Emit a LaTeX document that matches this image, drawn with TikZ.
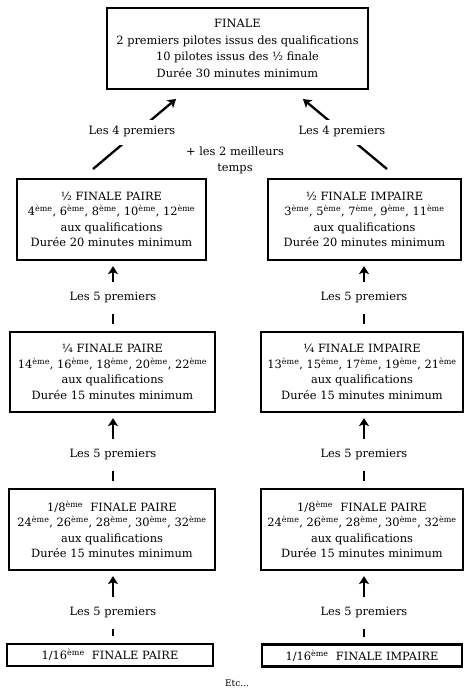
\documentclass[tikz,border=0pt]{standalone}
\usepackage{fontspec}
\setmainfont{DejaVu Serif}
\usetikzlibrary{arrows.meta}
\newcommand{\eme}{\textsuperscript{ème}}
\begin{document}
\begin{tikzpicture}[x=1pt,y=-1pt,
  box/.style={draw, line width=2.2pt, align=center, inner sep=0pt,
    font=\fontsize{11.4}{15.5}\selectfont},
  lab/.style={font=\fontsize{11.4}{13}\selectfont, inner xsep=1pt, inner ysep=10pt,
    text height=8pt, text depth=3pt},
  arr/.style={line width=2.3pt, -{Stealth[length=8pt,width=10pt,inset=2pt]}},
  barline/.style={line width=2.6pt}]
\useasboundingbox (0,0) rectangle (464,689);

% boxes
\node[box, minimum width=261pt, minimum height=81pt, font=\fontsize{11.4}{16.5}\selectfont] (fin) at (237.5,48.5)
  {FINALE\\2 premiers pilotes issus des qualifications\\10 pilotes issus des ½ finale\\Durée 30 minutes minimum};
\node[box, minimum width=189pt, minimum height=81pt] (hp) at (111.5,219.5)
  {½ FINALE PAIRE\\4\eme, 6\eme, 8\eme, 10\eme, 12\eme\\aux qualifications\\Durée 20 minutes minimum};
\node[box, minimum width=193pt, minimum height=81pt] (hi) at (364.5,219.5)
  {½ FINALE IMPAIRE\\3\eme, 5\eme, 7\eme, 9\eme, 11\eme\\aux qualifications\\Durée 20 minutes minimum};
\node[box, minimum width=205pt, minimum height=80pt] (qp) at (112.5,372)
  {¼ FINALE PAIRE\\14\eme, 16\eme, 18\eme, 20\eme, 22\eme\\aux qualifications\\Durée 15 minutes minimum};
\node[box, minimum width=202pt, minimum height=80pt] (qi) at (362,372)
  {¼ FINALE IMPAIRE\\13\eme, 15\eme, 17\eme, 19\eme, 21\eme\\aux qualifications\\Durée 15 minutes minimum};
\node[box, minimum width=206pt, minimum height=81pt] (ep) at (112,529.5)
  {1/8\eme~ FINALE PAIRE\\24\eme, 26\eme, 28\eme, 30\eme, 32\eme\\aux qualifications\\Durée 15 minutes minimum};
\node[box, minimum width=202pt, minimum height=81pt] (ei) at (362,529.5)
  {1/8\eme~ FINALE PAIRE\\24\eme, 26\eme, 28\eme, 30\eme, 32\eme\\aux qualifications\\Durée 15 minutes minimum};
\node[box, minimum width=206pt, minimum height=22pt] (sp) at (110,655)
  {1/16\eme~ FINALE PAIRE};
\node[box, minimum width=200pt, minimum height=22pt] (si) at (362,655.5)
  {1/16\eme~ FINALE IMPAIRE};

% diagonal connectors to the final
\coordinate (dl1) at (93,169);
\coordinate (dl2) at (176,99);
\coordinate (dr1) at (387,169);
\coordinate (dr2) at (303,99);
\draw[arr] (dl1) -- (dl2);
\draw[arr] (dr1) -- (dr2);
\node[lab, fill=white, inner ysep=7pt] (l4a) at (132,132) {Les 4 premiers};
\node[lab, fill=white, inner ysep=7pt] (l4b) at (342,132) {Les 4 premiers};
\node[font=\fontsize{11.4}{16}\selectfont, align=center] (best) at (235,160) {+ les 2 meilleurs\\temps};

% column connectors
\foreach \up/\down/\lx/\ly/\nm in {hp/qp/113/298/a, qp/ep/113/455/b, ep/sp/113/613/c,
                                     hi/qi/364/298/d, qi/ei/364/455/e, ei/si/364/613/f} {
  \node[lab] (lab\nm) at (\lx,\ly) {Les 5 premiers};
  \draw[arr, shorten >=5pt] (lab\nm.north) -- (lab\nm.north |- \up.south);
  \draw[barline, shorten >=6.5pt] (lab\nm.south) -- (lab\nm.south |- \down.north);
}

\node[font=\fontsize{9}{11}\selectfont] (etc) at (237,683) {Etc...};
\end{tikzpicture}
\end{document}
